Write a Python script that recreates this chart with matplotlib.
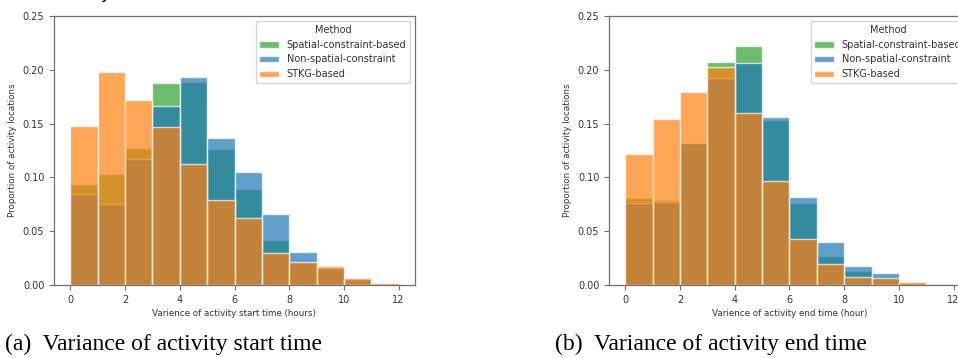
# hist_compare.py
# layered histograms of activity time variance for three methods

import numpy as np
import matplotlib
matplotlib.use("Agg")
import matplotlib.pyplot as plt

# bin edges (hours), one bin per hour
bin_edges = np.arange(0, 13, 1)

methods = ["Spatial-constraint-based", "Non-spatial-constraint", "STKG-based"]
colors = ["#2ca02c", "#1f77b4", "#ff7f0e"]

# (a) start time variance, proportion per bin
start_spatial = [0.094, 0.103, 0.127, 0.188, 0.189, 0.126, 0.0895, 0.0415, 0.020, 0.015, 0.005, 0.001]
start_nonspatial = [0.085, 0.075, 0.117, 0.166, 0.193, 0.137, 0.105, 0.066, 0.0307, 0.0155, 0.0053, 0.001]
start_stkg = [0.148, 0.198, 0.172, 0.147, 0.112, 0.079, 0.0626, 0.030, 0.021, 0.018, 0.0068, 0.0015]

# (b) end time variance, proportion per bin
end_spatial = [0.081, 0.079, 0.132, 0.207, 0.222, 0.153, 0.0765, 0.027, 0.013, 0.0077, 0.002, 0.0005]
end_nonspatial = [0.076, 0.077, 0.132, 0.192, 0.206, 0.156, 0.0815, 0.0402, 0.0174, 0.0114, 0.002, 0.0008]
end_stkg = [0.122, 0.154, 0.179, 0.203, 0.160, 0.097, 0.0425, 0.0195, 0.0077, 0.0065, 0.003, 0.0003]

xlabels = ["Varience of activity start time (hours)", "Varience of activity end time (hour)"]
captions = ["(a)  Variance of activity start time", "(b)  Variance of activity end time"]

TEXT = "#333333"
SPINE = "#707070"

fig = plt.figure(figsize=(9.58, 3.58), dpi=100)

# axes positions in pixels (left, top, right, bottom); the right one runs past the edge
axes_px = [(54, 16, 415, 285), (609, 16, 970, 285)]
W, H = 958.0, 358.0

panels = [
    (start_spatial, start_nonspatial, start_stkg),
    (end_spatial, end_nonspatial, end_stkg),
]

for i, (series, (l, t, r, b)) in enumerate(zip(panels, axes_px)):
    ax = fig.add_axes([l / W, (H - b) / H, (r - l) / W, (b - t) / H])

    # draw green, then blue, then orange on top
    for name, color, vals in zip(methods, colors, series):
        ax.bar(bin_edges[:-1], vals, width=1.0, align="edge", color=color,
               alpha=0.7, edgecolor="white", linewidth=1.0, label=name)

    ax.set_xlim(-0.6, 12.6)
    ax.set_ylim(0, 0.25)
    ax.set_xticks(np.arange(0, 13, 2))
    ax.set_yticks(np.arange(0, 0.26, 0.05))
    ax.yaxis.set_major_formatter(matplotlib.ticker.FormatStrFormatter("%.2f"))
    ax.tick_params(labelsize=7, colors=SPINE, labelcolor=TEXT, length=3.5, width=0.8)
    for sp in ax.spines.values():
        sp.set_color(SPINE)
        sp.set_linewidth(0.9)

    ax.set_xlabel(xlabels[i], fontsize=6.3, color=TEXT, labelpad=3)
    ax.set_ylabel("Proportion of activity locations", fontsize=6.3, color=TEXT, labelpad=4)

    leg = ax.legend(title="Method", loc="upper right", fontsize=7, title_fontsize=7,
                    borderaxespad=0.5)
    for txt in leg.get_texts():
        txt.set_color(TEXT)
    leg.get_title().set_color(TEXT)

# sub-figure captions in a Times-like serif
fig.text(5 / W, (H - 350) / H, captions[0], fontsize=17, family="Liberation Serif",
         ha="left", va="baseline", color="black")
fig.text(555 / W, (H - 350) / H, captions[1], fontsize=17, family="Liberation Serif",
         ha="left", va="baseline", color="black")

# descender of a line cut off above the figure
fig.text(100 / W, 1 + 1.5 / H, "y", fontsize=12, ha="left", va="baseline", color="black")

fig.savefig("out.png", dpi=100)
